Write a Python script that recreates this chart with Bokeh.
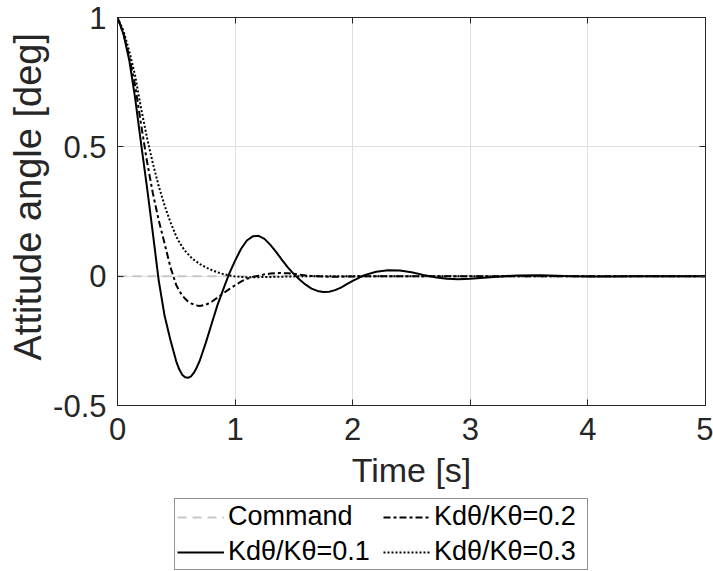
from bokeh.plotting import figure
from bokeh.layouts import column
from bokeh.models import (Range1d, FixedTicker, LinearAxis, Legend, LegendItem, Title,
                          ColumnDataSource, NumeralTickFormatter, CustomJSTickFormatter)
from bokeh.embed import file_html
from bokeh.resources import INLINE

# ---------------- data ----------------
time_s = [0.00, 0.05, 0.10, 0.15, 0.20, 0.25, 0.30, 0.35, 0.40, 0.45,
          0.50, 0.525, 0.55, 0.575, 0.60, 0.625, 0.65, 0.675, 0.70, 0.75,
          0.80, 0.85, 0.90, 0.95,
          1.00, 1.05, 1.10, 1.15, 1.20, 1.25, 1.30, 1.35, 1.40, 1.45,
          1.50, 1.55, 1.60, 1.65, 1.70, 1.75, 1.80, 1.85, 1.90, 1.95,
          2.00, 2.10, 2.20, 2.30, 2.40, 2.50, 2.60, 2.70, 2.80, 2.90,
          3.00, 3.20, 3.40, 3.60, 3.80, 4.00, 4.20, 4.40, 4.60, 4.80, 5.00]

kd_01 = [1.000, 0.937, 0.835, 0.688, 0.514, 0.346, 0.168, -0.015, -0.152, -0.247,
         -0.330, -0.360, -0.381, -0.391, -0.393, -0.387, -0.373, -0.352, -0.326, -0.259,
         -0.185, -0.112, -0.050, 0.010,
         0.060, 0.105, 0.138, 0.154, 0.156, 0.144, 0.121, 0.093, 0.062, 0.033,
         0.008, -0.014, -0.033, -0.048, -0.057, -0.061, -0.060, -0.054, -0.044, -0.031,
         -0.018, 0.004, 0.017, 0.023, 0.022, 0.015, 0.005, -0.004, -0.010, -0.012,
         -0.010, -0.003, 0.003, 0.004, 0.001, -0.001, -0.001, 0.000, 0.000, 0.000, 0.000]

kd_02 = [1.000, 0.940, 0.848, 0.736, 0.588, 0.446, 0.322, 0.217, 0.127, 0.035,
         -0.035, -0.056, -0.075, -0.087, -0.098, -0.105, -0.110, -0.113, -0.115, -0.111,
         -0.099, -0.083, -0.066, -0.050,
         -0.035, -0.021, -0.010, -0.003, 0.002, 0.007, 0.010, 0.012, 0.012, 0.011,
         0.009, 0.006, 0.003, 0.001, 0.000, -0.001, -0.002, -0.002, -0.002, -0.001,
         -0.001, 0.000, 0.000, 0.000, 0.000, 0.000, 0.000, 0.000, 0.000, 0.000,
         0.000, 0.000, 0.000, 0.000, 0.000, 0.000, 0.000, 0.000, 0.000, 0.000, 0.000]

kd_03 = [1.000, 0.950, 0.870, 0.775, 0.650, 0.537, 0.437, 0.349, 0.274, 0.209,
         0.153, 0.132, 0.113, 0.098, 0.085, 0.073, 0.063, 0.055, 0.047, 0.034,
         0.024, 0.015, 0.008, 0.003,
         -0.001, -0.003, -0.004, -0.004, -0.004, -0.003, -0.003, -0.002, -0.002, -0.001,
         -0.001, 0.000, 0.000, 0.000, 0.000, 0.000, 0.000, 0.000, 0.000, 0.000,
         0.000, 0.000, 0.000, 0.000, 0.000, 0.000, 0.000, 0.000, 0.000, 0.000,
         0.000, 0.000, 0.000, 0.000, 0.000, 0.000, 0.000, 0.000, 0.000, 0.000, 0.000]

command_t = [0.0, 5.0]
command_v = [0.0, 0.0]

x_ticks = [0, 1, 2, 3, 4, 5]
y_ticks = [-0.5, 0, 0.5, 1]

labels = ["Command", "Kdθ/Kθ=0.1", "Kdθ/Kθ=0.2", "Kdθ/Kθ=0.3"]

# ---------------- styles ----------------
FONT = "Liberation Sans"
AX = "#262626"
STYLES = [dict(line_color="#c8c8c8", line_width=2, line_dash="9 6"),
          dict(line_color="black", line_width=2),
          dict(line_color="black", line_width=2, line_dash="7 3 3 3"),
          dict(line_color="black", line_width=2, line_dash="2 2")]

src = ColumnDataSource(dict(t=time_s, a=kd_01, b=kd_02, c=kd_03))
csrc = ColumnDataSource(dict(t=command_t, v=command_v))

# ---------------- main figure ----------------
p = figure(width=713, height=498, output_backend="svg", toolbar_location=None,
           x_range=Range1d(0, 5), y_range=Range1d(-0.5, 1),
           min_border_left=117, min_border_right=8, min_border_top=17,
           min_border_bottom=93,
           background_fill_color="white", border_fill_color="white",
           outline_line_color=AX, outline_line_width=1)

p.line("t", "v", source=csrc, **STYLES[0])
p.line("t", "a", source=src, **STYLES[1])
p.line("t", "b", source=src, **STYLES[2])
p.line("t", "c", source=src, **STYLES[3])


def style_axis(ax, ticks):
    ax.ticker = FixedTicker(ticks=ticks)
    ax.axis_line_color = AX
    ax.major_tick_line_color = AX
    ax.major_tick_in = 6
    ax.major_tick_out = 0
    ax.minor_tick_line_color = None
    ax.major_label_text_font = FONT
    ax.major_label_text_font_size = "31px"
    ax.major_label_text_color = AX
    ax.axis_label_text_font = FONT
    ax.axis_label_text_font_style = "normal"
    ax.axis_label_text_color = AX


xa = p.xaxis[0]
ya = p.yaxis[0]
style_axis(xa, x_ticks)
style_axis(ya, y_ticks)
xa.formatter = NumeralTickFormatter(format="0.[0]")
ya.formatter = NumeralTickFormatter(format="0.[0]")
xa.major_label_standoff = 12
ya.major_label_standoff = 11
xa.axis_label = "Time [s]"
xa.axis_label_text_font_size = "34px"
xa.axis_label_standoff = 8

# y-axis title, shifted up along the axis as in the reference
ytitle = Title(text="Attitude angle [deg]", align="left", offset=45, standoff=4,
               text_font=FONT, text_font_size="38px", text_font_style="normal",
               text_color=AX)
p.add_layout(ytitle, "left")

top = LinearAxis()
right = LinearAxis()
style_axis(top, x_ticks)
style_axis(right, y_ticks)
for ax in (top, right):
    ax.formatter = CustomJSTickFormatter(code="return ''")
    ax.major_label_standoff = 0
    ax.major_label_text_font_size = "1px"
p.add_layout(top, "above")
p.add_layout(right, "right")

p.xgrid.ticker = FixedTicker(ticks=x_ticks)
p.ygrid.ticker = FixedTicker(ticks=y_ticks)
p.xgrid.grid_line_color = "#dfdfdf"
p.ygrid.grid_line_color = "#dfdfdf"

# ---------------- legend strip below the axes ----------------
# same series, drawn outside this strip's view so only the legend shows
q = figure(width=713, height=73, output_backend="svg", toolbar_location=None,
           x_range=Range1d(0, 5), y_range=Range1d(10, 11),
           min_border_left=0, min_border_right=0, min_border_top=0, min_border_bottom=0,
           background_fill_color="white", border_fill_color="white",
           outline_line_color=None)
q.xaxis.visible = False
q.yaxis.visible = False
q.xgrid.visible = False
q.ygrid.visible = False

k0 = q.line("t", "v", source=csrc, **STYLES[0])
k1 = q.line("t", "a", source=src, **STYLES[1])
k2 = q.line("t", "b", source=src, **STYLES[2])
k3 = q.line("t", "c", source=src, **STYLES[3])
keys = [k0, k1, k2, k3]

legend = Legend(items=[LegendItem(label=lab, renderers=[r]) for lab, r in zip(labels, keys)],
                location=(57, 1), ncols=2, orientation="vertical",
                label_text_font=FONT, label_text_font_size="27px",
                label_text_color="black", glyph_width=47, glyph_height=20,
                label_standoff=4, label_width=151, padding=2, spacing=4, margin=0,
                border_line_color=AX, border_line_width=1,
                background_fill_color="white", background_fill_alpha=1.0)
q.add_layout(legend, "center")

layout = column(p, q, spacing=0)
open("out.html", "w").write(file_html(layout, INLINE))
